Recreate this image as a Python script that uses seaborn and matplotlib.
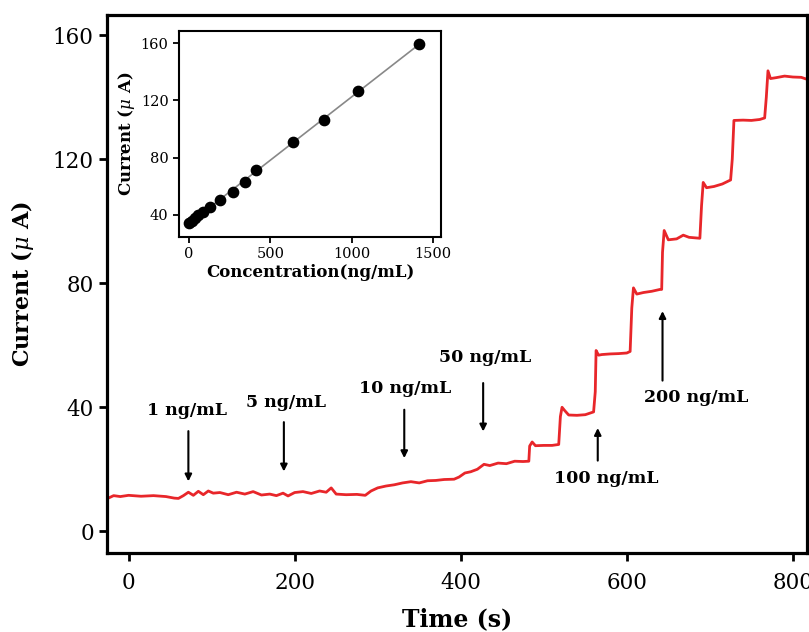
import numpy as np
import pandas as pd
import seaborn as sns
import matplotlib
matplotlib.use("Agg")
import matplotlib.pyplot as plt

# amperometric trace (time in s, current in uA)
time = [-26, -18, -10, 0, 15, 30, 45, 55, 60, 66, 72, 78, 84, 90, 96, 102, 110, 120,
        130, 140, 150, 160, 170, 178, 186, 192, 200, 210, 220, 230, 238, 244, 250,
        262, 275, 285, 292, 300, 310, 320, 330, 340, 350, 360, 370, 380, 392, 398,
        405, 412, 420, 428, 435, 445, 455, 465, 475, 482, 483, 486, 490, 500, 510,
        518, 520, 522, 525, 530, 540, 550, 560, 562, 563, 566, 570, 580, 590, 600,
        604, 606, 608, 612, 620, 630, 640, 642, 643, 645, 650, 660, 668, 675, 688,
        690, 692, 696, 705, 715, 725, 727, 729, 740, 750, 760, 766, 768, 770, 773,
        780, 790, 800, 810, 820]
current = [10.5, 11.5, 11.2, 11.6, 11.3, 11.5, 11.2, 10.7, 10.6, 11.5, 12.6, 11.6, 12.9,
           11.8, 13.0, 12.3, 12.5, 11.8, 12.6, 12.0, 12.8, 11.7, 12.0, 11.5, 12.3, 11.4,
           12.5, 12.8, 12.2, 13.0, 12.6, 14.0, 12.0, 11.8, 11.9, 11.6, 13.0, 14.0, 14.6,
           15.0, 15.6, 16.0, 15.6, 16.3, 16.4, 16.7, 16.8, 17.5, 18.8, 19.2, 20.0, 21.6,
           21.2, 22.0, 21.8, 22.6, 22.5, 22.6, 27.5, 28.8, 27.6, 27.7, 27.7, 28.0, 37.0,
           40.0, 39.0, 37.5, 37.4, 37.6, 38.5, 45.0, 58.3, 56.8, 57.0, 57.2, 57.3, 57.5,
           58.0, 72.0, 78.5, 76.5, 77.0, 77.4, 78.0, 78.0, 90.0, 97.0, 94.0, 94.3, 95.5,
           94.8, 94.5, 105.0, 112.5, 110.8, 111.2, 112.0, 113.3, 120.0, 132.5, 132.6,
           132.5, 132.8, 133.3, 140.0, 148.5, 146.0, 146.3, 146.8, 146.5, 146.4, 145.5]

# calibration points for the inset
conc = [2, 16, 37, 57, 88, 129, 190, 270, 346, 415, 638, 833, 1040, 1412]
conc_current = [34.2, 35.8, 37.9, 40.0, 42.2, 45.3, 50.2, 56.3, 63.3, 71.4, 90.8, 106.6,
                126.2, 159.5]

# additions: label, arrow x, arrow tail y, arrow head y, text x, text y
add_labels = ["1 ng/mL", "5 ng/mL", "10 ng/mL", "50 ng/mL", "100 ng/mL", "200 ng/mL"]
add_x = [72, 187, 332, 427, 565, 643]
add_tail = [33.2, 36.1, 40.1, 48.7, 21.9, 47.7]
add_head = [15.2, 18.4, 22.7, 31.3, 34.2, 71.9]
add_tx = [70, 189, 333, 429, 575, 683]
add_ty = [39.0, 41.4, 46.0, 55.9, 17.1, 43.2]

df = pd.DataFrame({"time": time, "current": current})
df_cal = pd.DataFrame({"conc": conc, "current": conc_current})

sns.set_theme(style="ticks")
plt.rcParams["font.family"] = ["DejaVu Serif"]
plt.rcParams["mathtext.fontset"] = "dejavuserif"
for k in ["text.color", "axes.labelcolor", "xtick.color", "ytick.color", "axes.edgecolor"]:
    plt.rcParams[k] = "black"

fig = plt.figure(figsize=(8.09, 6.32), dpi=100)
ax = fig.add_axes([107 / 809, 79 / 632, 700 / 809, 538 / 632])

sns.lineplot(data=df, x="time", y="current", sort=False, color="#e8262a", lw=2.0, ax=ax)

ax.set_xlim(-26, 817)
ax.set_ylim(-7, 166.5)
ax.set_xticks([0, 200, 400, 600, 800])
ax.set_yticks([0, 40, 80, 120, 160])
ax.tick_params(direction="out", length=6, width=2, labelsize=15.5)
ax.tick_params(axis="x", pad=8)
for sp in ax.spines.values():
    sp.set_linewidth(2.3)
ax.set_xlabel("Time (s)", fontsize=17, fontweight="bold", labelpad=9)
ax.set_ylabel(r"Current ($\mu$ A)", fontsize=16, fontweight="bold", labelpad=12)

for lab, x, t0, h, tx, ty in zip(add_labels, add_x, add_tail, add_head, add_tx, add_ty):
    ax.annotate("", xy=(x, h), xytext=(x, t0),
                arrowprops=dict(arrowstyle="-|>", color="black", lw=1.5, mutation_scale=10))
    ax.text(tx, ty, lab, ha="center", va="center", fontsize=12.5, fontweight="bold")

# inset calibration plot
ins = fig.add_axes([179 / 809, (632 - 237) / 632, 262 / 809, 206 / 632])
sns.regplot(data=df_cal, x="conc", y="current", ci=None, ax=ins,
            scatter_kws=dict(s=55, color="black", alpha=1, zorder=3),
            line_kws=dict(color="#888888", lw=1.2, zorder=2))
ins.set_xlim(-61, 1549)
ins.set_ylim(24.6, 168.4)
ins.set_xticks([0, 500, 1000, 1500])
ins.set_yticks([40, 80, 120, 160])
ins.tick_params(direction="out", length=4, width=1.3, labelsize=10.5)
for sp in ins.spines.values():
    sp.set_linewidth(1.5)
ins.set_xlabel("Concentration(ng/mL)", fontsize=12, fontweight="bold", labelpad=2)
ins.set_ylabel(r"Current ($\mu$ A)", fontsize=12, fontweight="bold", labelpad=3)

fig.savefig("out.png", dpi=100)
